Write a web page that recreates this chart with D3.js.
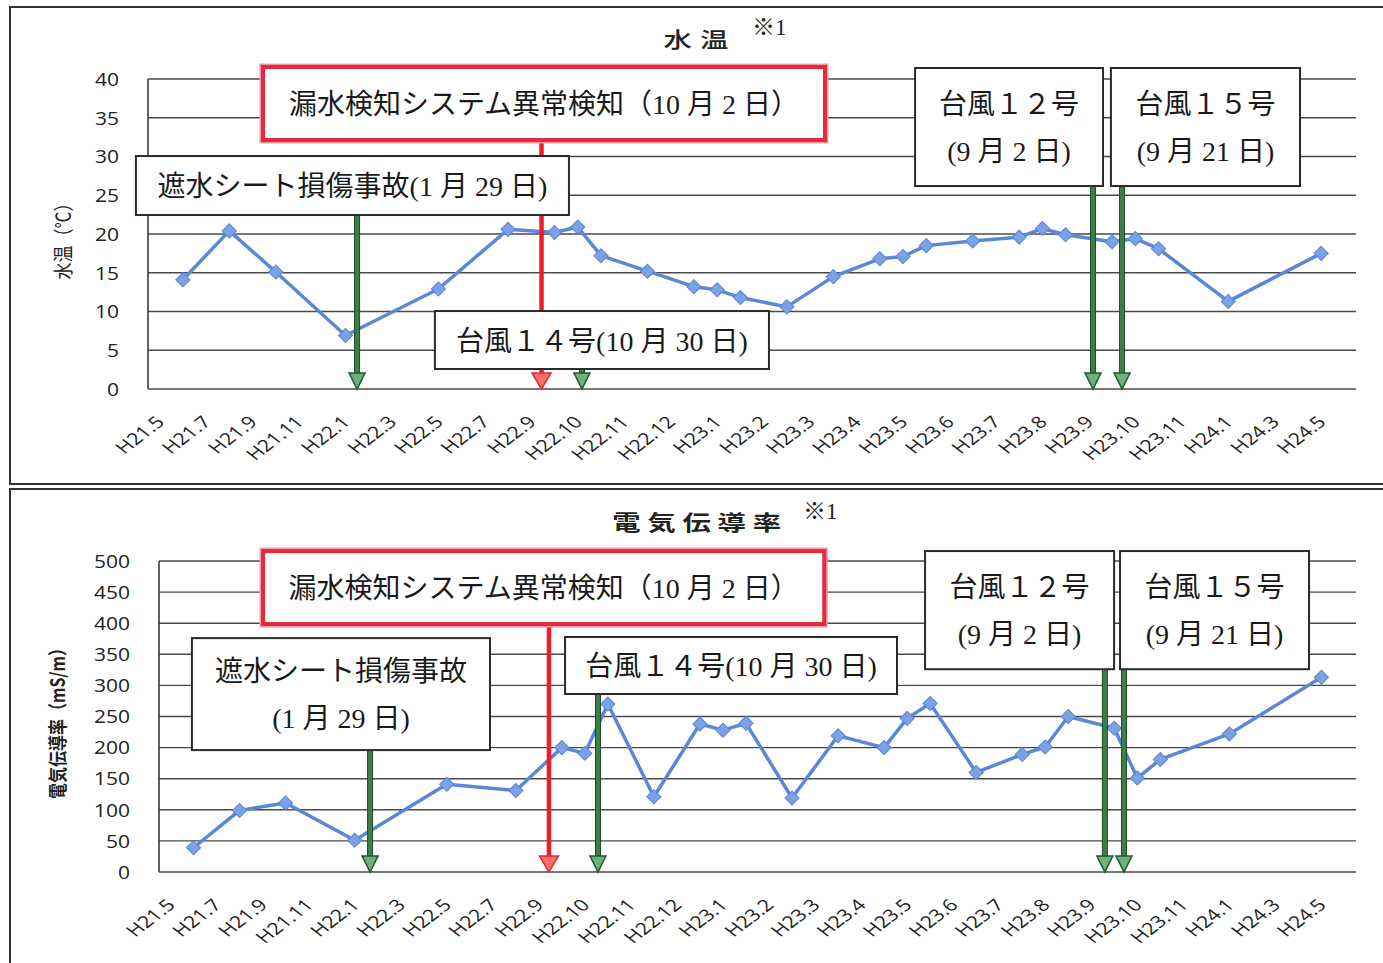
<!DOCTYPE html>
<html><head><meta charset="utf-8">
<script src="https://cdn.jsdelivr.net/npm/d3@7"></script>
<style>body{margin:0;background:#fff} svg{display:block}</style>
</head><body><svg id="c" width="1383" height="963"></svg>
<script>
// ---------- data ----------
const tickLabels = ["H21.5","H21.7","H21.9","H21.11","H22.1","H22.3","H22.5","H22.7","H22.9","H22.10","H22.11","H22.12","H23.1","H23.2","H23.3","H23.4","H23.5","H23.6","H23.7","H23.8","H23.9","H23.10","H23.11","H24.1","H24.3","H24.5"];
// category slot (two slots per tick label) of each measurement
const slots = [1,3,5,8,12,15,17,18,19,21,23,24,25,27,29,31,32,33,35,37,38,39,41,42,43,46,50];
const waterTemp = [14.1,20.4,15.1,6.9,12.9,20.6,20.2,20.9,17.2,15.2,13.2,12.8,11.8,10.6,14.5,16.8,17.1,18.5,19.1,19.6,20.7,19.9,19.0,19.4,18.1,11.3,17.5];
const conductivity = [39,99,111,51,141,131,200,191,270,121,238,228,239,119,219,200,247,271,160,189,201,250,231,151,181,222,313];
const tempTicks = [0,5,10,15,20,25,30,35,40];
const condTicks = [0,50,100,150,200,250,300,350,400,450,500];
const slotCount = 52;

// annotation texts
const txtLeak = "漏水検知システム異常検知（10 月 2 日）";
const txtSheetOne = "遮水シート損傷事故(1 月 29 日)";
const txtSheetA = "遮水シート損傷事故";
const txtSheetB = "(1 月 29 日)";
const txtT14 = "台風１４号(10 月 30 日)";
const txtT12 = ["台風１２号","(9 月 2 日)"];
const txtT15 = ["台風１５号","(9 月 21 日)"];

// ---------- layout ----------
const charts = [
  {title:"水温", yLabel:"水温（℃）", values:waterTemp, ticks:tempTicks, yMax:40,
   left:148, right:1356, top:79, bottom:389, titleY:38, noteY:27, noteX:752, yLabelX:62, bold:false,
   events:[
     {x:16.94, red:true,  box:[4.95,29.14,41.55,32.13], lines:[txtLeak]},
     {x:9.0,   box:[-0.52,18.12,30.06,22.45], lines:[txtSheetOne]},
     {x:18.68, box:[12.35,26.73,10.06,2.58], lines:[txtT14]},
     {x:40.68, box:[33.02,41.11,41.42,26.19], lines:txtT12},
     {x:41.93, box:[41.45,49.59,41.42,26.19], lines:txtT15}
   ]},
  {title:"電気伝導率", yLabel:"電気伝導率（mS/m）", values:conductivity, ticks:condTicks, yMax:500,
   left:159, right:1356, top:561, bottom:872, titleY:521, noteY:511, noteX:803, yLabelX:57, bold:true,
   events:[
     {x:16.94, red:true, box:[4.52,28.9,516,398.7], lines:[txtLeak]},
     {x:9.17,  box:[1.43,14.38,376,196], lines:[txtSheetA, txtSheetB]},
     {x:19.07, box:[17.64,32.06,377.8,286.2], lines:[txtT14]},
     {x:41.09, box:[33.28,41.49,516,326], lines:txtT12},
     {x:41.92, box:[41.75,49.96,516,326], lines:txtT15}
   ]}
];

const svg = d3.select("#c");
const chartFont = "'Open Sans','Noto Sans CJK JP',sans-serif";
const boxFont = "'Liberation Serif','Noto Sans CJK JP',serif";
const SX = 1.2;

// panel frames
svg.append("rect").attr("x",10).attr("y",7).attr("width",1400).attr("height",477)
  .attr("fill","none").attr("stroke","#333").attr("stroke-width",2);
svg.append("rect").attr("x",10).attr("y",489).attr("width",1400).attr("height",490)
  .attr("fill","none").attr("stroke","#333").attr("stroke-width",2);

charts.forEach(c => {
  const g = svg.append("g");
  const x = d3.scaleLinear().domain([0, slotCount]).range([c.left, c.right]);
  const y = d3.scaleLinear().domain([0, c.yMax]).range([c.bottom, c.top]);

  // gridlines
  g.selectAll("line.grid").data(c.ticks).join("line")
    .attr("x1", c.left).attr("x2", c.right)
    .attr("y1", d => y(d)).attr("y2", d => y(d))
    .attr("stroke", "#4a4a4a").attr("stroke-width", 1.4);
  g.append("line").attr("x1", c.left).attr("x2", c.left)
    .attr("y1", y(c.yMax)).attr("y2", y(0))
    .attr("stroke", "#3a3a3a").attr("stroke-width", 1.6);

  // y tick labels
  g.selectAll("text.yt").data(c.ticks).join("text")
    .attr("transform", d => `translate(${c.left - 29},${y(d)}) scale(${SX},1)`)
    .attr("text-anchor", "end").attr("dominant-baseline", "central")
    .attr("font-family", chartFont).attr("font-size", 17.5).attr("fill", "#222")
    .text(d => d);

  // x tick labels (every second slot)
  g.selectAll("text.xt").data(tickLabels).join("text")
    .attr("transform", (d, i) => `translate(${x(i * 2 + 0.5) + 6},${c.bottom + 34}) scale(1.3,1) rotate(-45)`)
    .attr("text-anchor", "end")
    .attr("font-family", chartFont).attr("font-size", 16.5).attr("fill", "#1e1e1e")
    .text(d => d);

  // title
  const mid = 700;
  g.append("text")
    .attr("transform", `translate(${mid},${c.titleY}) scale(1.35,1)`)
    .attr("text-anchor", "middle").attr("dominant-baseline", "central")
    .attr("font-family", "'Noto Sans CJK JP',sans-serif").attr("font-size", 21)
    .attr("font-weight", c.bold ? 700 : 500).attr("letter-spacing", c.bold ? 5 : 6)
    .attr("fill", "#222").text(c.title);
  g.append("text")
    .attr("x", c.noteX).attr("y", c.noteY)
    .attr("dominant-baseline", "central")
    .attr("font-family", boxFont).attr("font-size", 23).attr("fill", "#222")
    .text("※1");

  // y axis label
  g.append("text")
    .attr("transform", `translate(${c.yLabelX},${(c.top + c.bottom) / 2 + 3}) scale(${SX},1) rotate(-90)`)
    .attr("text-anchor", "middle").attr("dominant-baseline", "central")
    .attr("font-family", "'Noto Sans CJK JP',sans-serif").attr("font-size", c.bold ? 16 : 17)
    .attr("font-weight", c.bold ? 700 : 400).attr("fill", "#222")
    .text(c.yLabel);

  // data line
  const pts = slots.map((s, i) => [x(s + 0.5), y(c.values[i])]);
  g.append("path").attr("d", d3.line()(pts))
    .attr("fill", "none").attr("stroke", "#5a88d8").attr("stroke-width", 3.5)
    .attr("stroke-linejoin", "round");
  g.selectAll("path.mk").data(pts).join("path")
    .attr("d", d3.symbol().type(d3.symbolSquare).size(100))
    .attr("transform", d => `translate(${d[0]},${d[1]}) rotate(45)`)
    .attr("fill", "#7ba1e6").attr("stroke", "#5a86d4").attr("stroke-width", 1);

  // event arrows
  c.events.forEach(ev => {
    const ax = x(ev.x);
    const y0 = y(ev.box[3]);
    const tip = y(0);
    const hh = 16, hw = ev.red ? 9.5 : 8;
    if (ev.red) {
      g.append("line").attr("x1", ax).attr("x2", ax).attr("y1", y0).attr("y2", tip - hh + 2)
        .attr("stroke", "#f01c28").attr("stroke-width", 4.5);
      g.append("path").attr("d", `M${ax - hw},${tip - hh} L${ax + hw},${tip - hh} L${ax},${tip} Z`)
        .attr("fill", "#ff6e6e").attr("stroke", "#e02a30").attr("stroke-width", 1.5);
    } else {
      g.append("rect").attr("x", ax - 2.5).attr("width", 5).attr("y", y0).attr("height", tip - hh - y0 + 1)
        .attr("fill", "#3f7d4a").attr("stroke", "#1b4d25").attr("stroke-width", 1);
      g.append("path").attr("d", `M${ax - hw},${tip - hh} L${ax + hw},${tip - hh} L${ax},${tip} Z`)
        .attr("fill", "#6faf7d").attr("stroke", "#1d5a2a").attr("stroke-width", 1.5);
    }
  });

  // event boxes
  c.events.forEach(ev => {
    const bx0 = x(ev.box[0]), bx1 = x(ev.box[1]);
    const by0 = y(ev.box[2]), by1 = y(ev.box[3]);
    if (ev.red) {
      g.append("rect").attr("x", bx0).attr("y", by0).attr("width", bx1 - bx0).attr("height", by1 - by0)
        .attr("fill", "#fff").attr("stroke", "#f59aa3").attr("stroke-width", 7);
      g.append("rect").attr("x", bx0).attr("y", by0).attr("width", bx1 - bx0).attr("height", by1 - by0)
        .attr("fill", "#fff").attr("stroke", "#e8283c").attr("stroke-width", 4);
    } else {
      g.append("rect").attr("x", bx0).attr("y", by0).attr("width", bx1 - bx0).attr("height", by1 - by0)
        .attr("fill", "#fff").attr("stroke", "#2a2a2a").attr("stroke-width", 2);
    }
    const cx = (bx0 + bx1) / 2, cy = (by0 + by1) / 2;
    const n = ev.lines.length, gap = 47;
    ev.lines.forEach((t, i) => {
      g.append("text").attr("x", cx).attr("y", cy + (i - (n - 1) / 2) * gap + 1)
        .attr("text-anchor", "middle").attr("dominant-baseline", "central")
        .attr("font-family", boxFont).attr("font-size", 28).attr("fill", "#1a1a1a")
        .text(t);
    });
  });
});
</script>
</body></html>
